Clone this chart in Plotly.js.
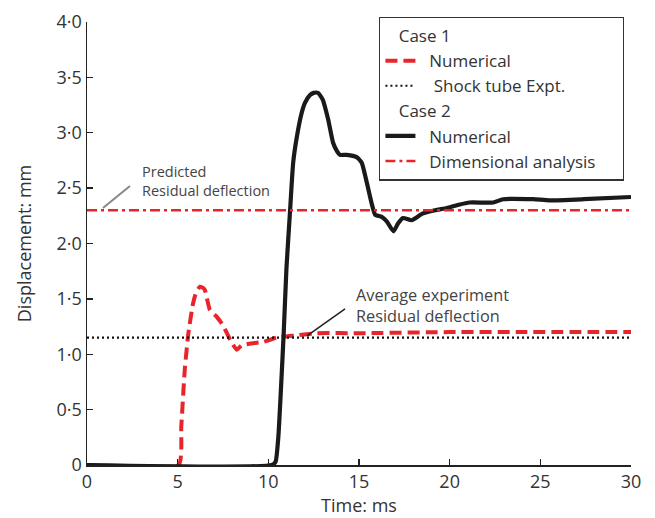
<!DOCTYPE html>
<html>
<head>
<meta charset="utf-8">
<script src="https://cdn.plot.ly/plotly-3.0.1.min.js"></script>
<style>html,body{margin:0;padding:0;background:#fff;}#chart{width:655px;height:518px;}</style>
</head>
<body>
<div id="chart"></div>
<script>
// Case 1 numerical (red dashed)
const case1Time = [0, 5.05, 5.2, 5.4, 5.6, 5.85, 6.0, 6.23, 6.4, 6.5, 6.78, 7.15, 7.5, 7.9, 8.26, 8.53, 9.16, 9.7, 10.46, 11.57, 12.67, 15, 20, 23.7, 30];
const case1Disp = [0, 0, 0.35, 0.88, 1.2, 1.46, 1.55, 1.61, 1.6, 1.58, 1.40, 1.34, 1.26, 1.13, 1.04, 1.08, 1.10, 1.11, 1.15, 1.17, 1.19, 1.19, 1.20, 1.20, 1.20];
// Case 2 numerical (black solid)
const case2Time = [0, 10.2, 10.4, 10.55, 10.7, 10.85, 11.0, 11.2, 11.37, 11.57, 11.84, 12.02, 12.3, 12.5, 12.74, 13.0, 13.3, 13.57, 13.8, 13.95, 14.32, 14.87, 15.15, 15.43, 15.7, 15.89, 16.05, 16.25, 16.53, 16.9, 17.15, 17.43, 17.9, 18.5, 19.2, 19.84, 20.5, 21.1, 22.4, 22.95, 24.6, 25.5, 27.4, 30];
const case2Disp = [0, 0, 0.03, 0.25, 0.7, 1.2, 1.78, 2.3, 2.73, 2.96, 3.18, 3.27, 3.34, 3.36, 3.36, 3.30, 3.12, 2.91, 2.83, 2.80, 2.80, 2.78, 2.73, 2.55, 2.36, 2.26, 2.25, 2.24, 2.20, 2.11, 2.18, 2.23, 2.21, 2.27, 2.30, 2.32, 2.35, 2.37, 2.37, 2.40, 2.40, 2.39, 2.40, 2.42];
// Reference levels
const levelTime = [0, 30];
const shockTubeLevel = [1.15, 1.15];
const dimensionalLevel = [2.3, 2.3];
// Ticks
const xTickVals = [0, 5, 10, 15, 20, 25, 30];
const xTickText = ['0', '5', '10', '15', '20', '25', '30'];
const yTickVals = [0, 0.5, 1, 1.5, 2, 2.5, 3, 3.5, 4];
const yTickText = ['0', '0·5', '1·0', '1·5', '2·0', '2·5', '3·0', '3·5', '4·0'];

const FONT = 'Open Sans, Noto Sans, sans-serif';
const TXT = '#333';
const NB = '\u00a0';
const LF = 17;

const traces = [
  {x: case1Time, y: case1Disp, mode: 'lines', name: NB + NB + 'Numerical', legendgroup: 'c1',
   legendgrouptitle: {text: NB + NB + NB + 'Case 1', font: {size: LF, color: TXT, family: FONT}},
   line: {color: '#e8252b', width: 4, dash: '12px,6px', shape: 'spline', smoothing: 0.5}},
  {x: levelTime, y: shockTubeLevel, mode: 'lines', name: NB + NB + NB + 'Shock tube Expt.', legendgroup: 'c1',
   line: {color: '#111', width: 2.2, dash: '2px,3px'}},
  {x: case2Time, y: case2Disp, mode: 'lines', name: NB + NB + 'Numerical', legendgroup: 'c2',
   legendgrouptitle: {text: NB + NB + NB + 'Case 2', font: {size: LF, color: TXT, family: FONT}},
   line: {color: '#1a1a1a', width: 4.2, shape: 'spline', smoothing: 0.5}},
  {x: levelTime, y: dimensionalLevel, mode: 'lines', name: NB + NB + 'Dimensional analysis' + NB + NB + NB + NB + NB, legendgroup: 'c2',
   line: {color: '#e8252b', width: 2.5, dash: '10px,4px,3px,4px'}}
];

const layout = {
  width: 655, height: 518,
  margin: {l: 87, r: 24, t: 22, b: 53},
  paper_bgcolor: '#fff', plot_bgcolor: '#fff',
  font: {family: FONT, color: TXT, size: 18},
  showlegend: true,
  legend: {x: 0.537, y: 1.012, xanchor: 'left', yanchor: 'top', bordercolor: '#333', borderwidth: 1.3,
           bgcolor: '#fff', traceorder: 'grouped', tracegroupgap: 0, font: {size: LF, color: TXT, family: FONT}},
  xaxis: {range: [0, 30], tickvals: xTickVals, ticktext: xTickText, ticks: 'inside', ticklen: 6, tickwidth: 1.3,
          tickcolor: '#222', showline: true, linecolor: '#222', linewidth: 1.5, showgrid: false, zeroline: false,
          tickfont: {size: 18, color: TXT}, title: {text: 'Time: ms', font: {size: 18, color: TXT}, standoff: 6}},
  yaxis: {range: [0, 4], tickvals: yTickVals, ticktext: yTickText, ticks: 'inside', ticklen: 6, tickwidth: 1.3,
          tickcolor: '#222', showline: true, linecolor: '#222', linewidth: 1.5, showgrid: false, zeroline: false,
          tickfont: {size: 18, color: TXT}, title: {text: 'Displacement: mm', font: {size: 18, color: TXT}, standoff: 20}},
  shapes: [
    {type: 'line', xref: 'x', yref: 'y', x0: 0.88, y0: 2.32, x1: 2.37, y1: 2.52, line: {color: '#888', width: 2}},
    {type: 'line', xref: 'x', yref: 'y', x0: 12.13, y0: 1.165, x1: 14.23, y1: 1.41, line: {color: '#222', width: 1.5}}
  ],
  annotations: [
    {xref: 'x', yref: 'y', x: 2.95, y: 2.56, xanchor: 'left', yanchor: 'middle', align: 'left', showarrow: false,
     text: 'Predicted<br>Residual deflection', font: {size: 14.5, color: '#444'}},
    {xref: 'x', yref: 'y', x: 14.75, y: 1.436, xanchor: 'left', yanchor: 'middle', align: 'left', showarrow: false,
     text: 'Average experiment<br>Residual deflection', font: {size: 16.3, color: '#444'}}
  ]
};

Plotly.newPlot('chart', traces, layout, {displayModeBar: false, staticPlot: true});
</script>
</body>
</html>
